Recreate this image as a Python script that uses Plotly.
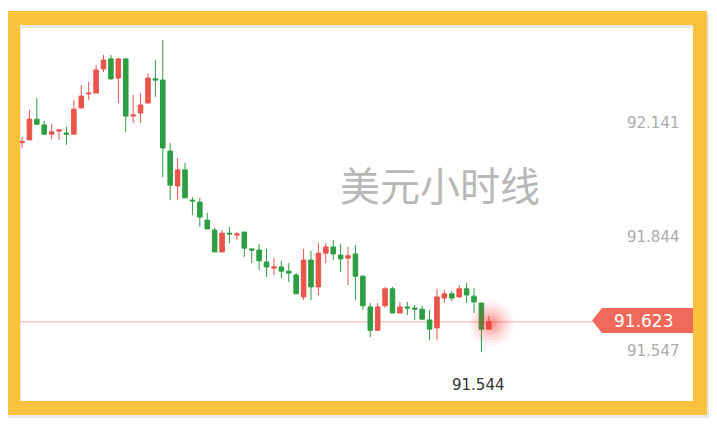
import plotly.graph_objects as go

# ---- data ----
opens = [92.090, 92.097, 92.151, 92.136, 92.112, 92.120, 92.115, 92.112, 92.180, 92.217,
         92.219, 92.282, 92.308, 92.258, 92.308, 92.159, 92.167, 92.193, 92.256, 92.253,
         92.068, 91.977, 92.019, 91.940, 91.935, 91.888, 91.862, 91.805, 91.854, 91.849,
         91.857, 91.813, 91.810, 91.779, 91.763, 91.766, 91.755, 91.745, 91.688, 91.784,
         91.714, 91.802, 91.818, 91.797, 91.789, 91.800, 91.742, 91.662, 91.601, 91.665,
         91.709, 91.646, 91.662, 91.659, 91.656, 91.628, 91.607, 91.685, 91.696, 91.688,
         91.709, 91.690, 91.672, 91.604]
highs = [92.105, 92.175, 92.206, 92.146, 92.138, 92.125, 92.131, 92.201, 92.240, 92.248,
         92.292, 92.318, 92.318, 92.310, 92.310, 92.214, 92.219, 92.271, 92.305, 92.357,
         92.089, 92.050, 92.037, 91.948, 91.946, 91.907, 91.868, 91.862, 91.870, 91.857,
         91.857, 91.815, 91.826, 91.813, 91.789, 91.782, 91.776, 91.750, 91.813, 91.808,
         91.828, 91.828, 91.836, 91.826, 91.818, 91.823, 91.745, 91.672, 91.672, 91.714,
         91.714, 91.675, 91.675, 91.667, 91.665, 91.654, 91.709, 91.706, 91.703, 91.719,
         91.724, 91.711, 91.672, 91.638]
lows = [92.076, 92.097, 92.136, 92.110, 92.099, 92.097, 92.084, 92.112, 92.180, 92.201,
        92.219, 92.274, 92.253, 92.193, 92.118, 92.141, 92.141, 92.193, 92.209, 92.000,
        91.940, 91.940, 91.946, 91.901, 91.870, 91.865, 91.805, 91.805, 91.828, 91.836,
        91.792, 91.776, 91.758, 91.740, 91.745, 91.737, 91.727, 91.696, 91.680, 91.680,
        91.693, 91.776, 91.784, 91.753, 91.719, 91.680, 91.654, 91.583, 91.601, 91.659,
        91.646, 91.646, 91.641, 91.628, 91.628, 91.575, 91.575, 91.672, 91.677, 91.685,
        91.672, 91.646, 91.544, 91.604]
closes = [92.093, 92.151, 92.138, 92.112, 92.118, 92.123, 92.112, 92.177, 92.211, 92.219,
          92.279, 92.305, 92.256, 92.308, 92.159, 92.162, 92.188, 92.258, 92.253, 92.076,
          91.979, 92.019, 91.946, 91.938, 91.896, 91.865, 91.805, 91.854, 91.852, 91.852,
          91.815, 91.810, 91.782, 91.766, 91.766, 91.755, 91.750, 91.696, 91.784, 91.714,
          91.802, 91.818, 91.800, 91.787, 91.795, 91.742, 91.665, 91.601, 91.662, 91.709,
          91.646, 91.662, 91.659, 91.656, 91.630, 91.604, 91.688, 91.696, 91.685, 91.709,
          91.693, 91.675, 91.604, 91.623]
x_idx = list(range(len(opens)))

tick_vals = [92.141, 91.844, 91.547]
tick_text = ["92.141", "91.844", "91.547"]
last_price = 91.623
last_label = "91.623"
min_label = "91.544"
title_text = "美元小时线"

# page has an 8px body margin: the figure starts at screen (8, 8)
OFF = 8
W, H = 701, 410
RED = "#E8554B"
GREEN = "#2E9E42"

def px(x):
    return (x - OFF) / W

def py(y):
    return 1 - (y - OFF) / H

fig = go.Figure()

# soft glow around the last candle
for s, op in [(46, 0.04), (40, 0.05), (34, 0.06), (28, 0.08), (22, 0.10), (16, 0.12), (10, 0.14)]:
    fig.add_trace(go.Scatter(
        x=[x_idx[-1] + 0.3], y=[last_price - 0.004], mode="markers",
        marker=dict(size=s, color="#ff3030", opacity=op, line=dict(width=0)),
        hoverinfo="skip", showlegend=False))

fig.add_trace(go.Candlestick(
    x=x_idx, open=opens, high=highs, low=lows, close=closes,
    increasing=dict(line=dict(color=RED, width=1), fillcolor=RED),
    decreasing=dict(line=dict(color=GREEN, width=1), fillcolor=GREEN),
    whiskerwidth=0, showlegend=False, hoverinfo="skip"))

# tick labels on the right, placed through the y scale
for v, t in zip(tick_vals, tick_text):
    fig.add_annotation(x=px(682), xref="paper", y=v, yref="y", text=t,
                       showarrow=False, xanchor="right", yanchor="middle",
                       font=dict(family="DejaVu Sans", size=15, color="#ABABAB"))

# current price label
fig.add_annotation(x=px(643), xref="paper", y=last_price, yref="y", yshift=1,
                   text=last_label, showarrow=False, xanchor="center", yanchor="middle",
                   font=dict(family="DejaVu Sans", size=17, color="#ffffff"))

# min label under the lowest candle
imin = lows.index(min(lows))
fig.add_annotation(x=x_idx[imin], y=lows[imin], text=min_label, showarrow=False,
                   xanchor="center", yanchor="middle", yshift=-33, xshift=-3,
                   font=dict(family="DejaVu Sans", size=15, color="#333333"))

# watermark title
fig.add_annotation(x=px(440), y=py(184), xref="paper", yref="paper", text=title_text,
                   showarrow=False, xanchor="center", yanchor="middle",
                   font=dict(family="Noto Sans CJK SC", size=40, color="#B8B8B8"))

shapes = []
# current price line
shapes.append(dict(type="line", xref="paper", yref="y", x0=px(19), x1=px(593),
                   y0=last_price, y1=last_price,
                   line=dict(color="rgba(236,110,100,0.55)", width=1), layer="below"))
# price tag
path = "M {},{} L {},{} L {},{} L {},{} L {},{} Z".format(
    px(592), py(320.5), px(602), py(308), px(693), py(308), px(693), py(333), px(602), py(333))
shapes.append(dict(type="path", xref="paper", yref="paper", path=path,
                   fillcolor="#F1695A", line=dict(width=0), layer="below"))
# frame shadow
shapes.append(dict(type="rect", xref="paper", yref="paper",
                   x0=px(14), x1=px(702), y0=py(411), y1=py(21),
                   line=dict(color="rgba(120,120,120,0.18)", width=14), layer="above"))
# yellow frame
shapes.append(dict(type="rect", xref="paper", yref="paper",
                   x0=px(13), x1=px(700), y0=py(408), y1=py(18),
                   line=dict(color="#FDC23D", width=14), layer="above"))

# axis ranges map prices/indices to screen pixels
PPX = 0.002605   # price per pixel
y_top = 92.141 + (123 - OFF) * PPX
y_bot = 92.141 - (OFF + H - 123) * PPX
step = 7.41
x_left = (OFF - 22) / step
x_right = (OFF + W - 22) / step

fig.update_layout(
    width=W, height=H, margin=dict(l=0, r=0, t=0, b=0),
    paper_bgcolor="white", plot_bgcolor="white",
    boxgap=0.12,
    xaxis=dict(range=[x_left, x_right], visible=False, rangeslider=dict(visible=False),
               fixedrange=True),
    yaxis=dict(range=[y_bot, y_top], visible=False, fixedrange=True),
    shapes=shapes, showlegend=False, hovermode=False,
)

fig.write_html("out.html")
